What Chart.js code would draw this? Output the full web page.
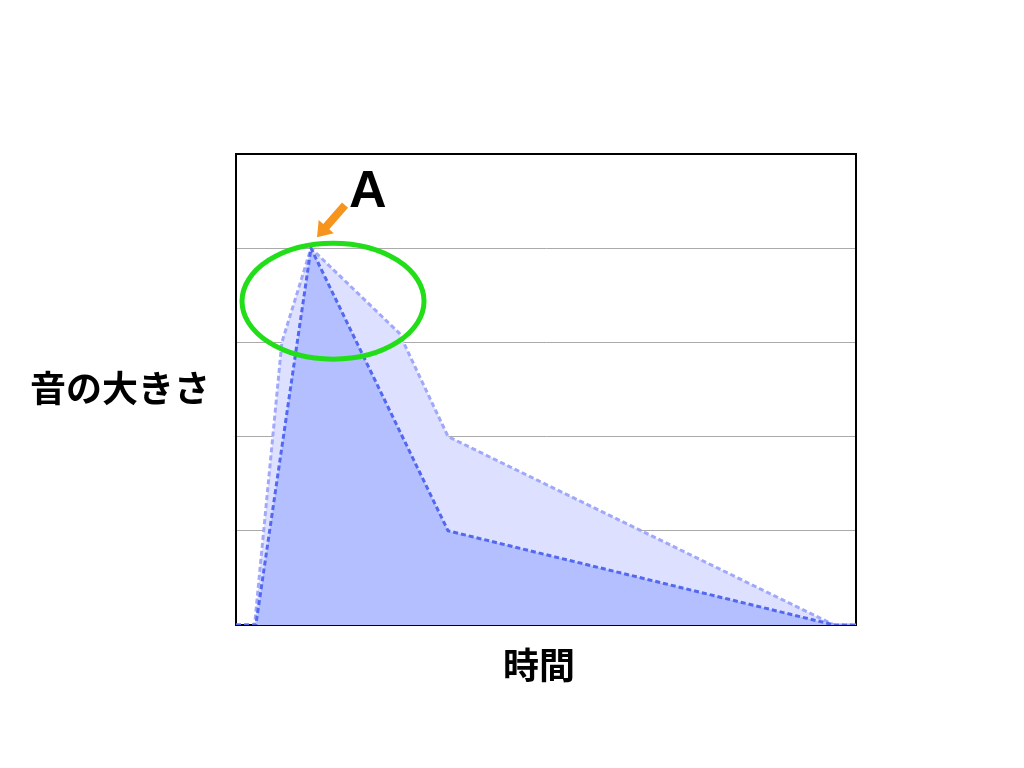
<!DOCTYPE html>
<html>
<head>
<meta charset="utf-8">
<script src="https://cdn.jsdelivr.net/npm/chart.js@4"></script>
<style>
  html, body { margin: 0; padding: 0; background: #fff; }
  #wrap { width: 1024px; height: 768px; }
</style>
</head>
<body>
<div id="wrap"><canvas id="chart" width="1024" height="768"></canvas></div>
<script>
// time axis 0..100, loudness 0..5
const darkTimes = [0, 3.2, 12.1, 34.2, 96.5, 100];
const darkLevels = [0, 0, 4, 1, 0, 0];
const lightTimes = [0, 3, 7.4, 12.1, 26.3, 34.2, 96.5, 100];
const lightLevels = [0, 0, 3, 4, 3.1, 2, 0, 0];
const yTicks = [0, 1, 2, 3, 4, 5];
const peakTime = 12.1;
const peakLevel = 4;

const xLabel = '時間';
const yLabel = '音の大きさ';
const markLabel = 'A';

function toPoints(xs, ys) {
    return xs.map((x, i) => ({ x: x, y: ys[i] }));
}

const decor = {
    id: 'decor',
    beforeDatasetsDraw(chart) {
        const c = chart.ctx;
        const a = chart.chartArea;
        c.save();
        // frame, under the lines
        c.strokeStyle = '#000';
        c.lineWidth = 2;
        c.strokeRect(a.left, a.top, a.right - a.left, a.bottom - a.top);
        c.restore();
    },
    afterDraw(chart) {
        const c = chart.ctx;
        const a = chart.chartArea;
        const xs = chart.scales.x, ys = chart.scales.y;
        c.save();

        // axis titles
        c.fillStyle = '#000';
        c.font = 'bold 36px "Noto Sans CJK JP"';
        c.textAlign = 'center';
        c.textBaseline = 'middle';
        c.fillText(yLabel, 120, (a.top + a.bottom) / 2 - 1);
        c.fillText(xLabel, (a.left + a.right) / 2 - 7, a.bottom + 40);

        // marker around peak
        const px = xs.getPixelForValue(peakTime);
        const py = ys.getPixelForValue(peakLevel);
        c.strokeStyle = 'rgb(34,222,24)';
        c.lineWidth = 5;
        c.beginPath();
        c.ellipse(px + 22, py + 53, 91, 58, 0, 0, Math.PI * 2);
        c.stroke();

        // arrow
        const tx = px + 34, ty = py - 43;
        const hx = px + 6, hy = py - 11;
        const ang = Math.atan2(hy - ty, hx - tx);
        const len = Math.hypot(hx - tx, hy - ty);
        c.translate(tx, ty);
        c.rotate(ang);
        c.fillStyle = 'rgb(247,148,29)';
        c.beginPath();
        c.moveTo(0, -4);
        c.lineTo(len - 14, -4);
        c.lineTo(len - 14, -10);
        c.lineTo(len, 0);
        c.lineTo(len - 14, 10);
        c.lineTo(len - 14, 4);
        c.lineTo(0, 4);
        c.closePath();
        c.fill();
        c.setTransform(1, 0, 0, 1, 0, 0);
        c.scale(chart.currentDevicePixelRatio, chart.currentDevicePixelRatio);

        c.fillStyle = '#000';
        c.font = 'bold 52px "Liberation Sans"';
        c.textAlign = 'left';
        c.textBaseline = 'alphabetic';
        c.fillText(markLabel, px + 38, py - 41);
        c.restore();
    }
};

new Chart(document.getElementById('chart').getContext('2d'), {
    type: 'line',
    data: {
        datasets: [{
            label: 'dark',
            data: toPoints(darkTimes, darkLevels),
            borderColor: 'rgb(82,104,240)',
            backgroundColor: 'rgb(179,191,255)',
            borderDash: [5, 3],
            borderWidth: 3,
            pointRadius: 0,
            tension: 0,
            fill: 'origin'
        }, {
            label: 'light',
            data: toPoints(lightTimes, lightLevels),
            borderColor: 'rgb(160,168,250)',
            backgroundColor: 'rgb(222,224,255)',
            borderDash: [5, 3],
            borderWidth: 3,
            pointRadius: 0,
            tension: 0,
            fill: 'origin'
        }]
    },
    options: {
        responsive: false,
        animation: false,
        layout: {
            padding: { left: 236, right: 168, top: 154, bottom: 143 }
        },
        plugins: {
            legend: { display: false },
            tooltip: { enabled: false }
        },
        scales: {
            x: {
                type: 'linear',
                min: 0,
                max: 100,
                grid: { display: false, drawTicks: false },
                border: { display: true, color: '#000', width: 2 },
                ticks: { display: false }
            },
            y: {
                min: 0,
                max: 5,
                afterBuildTicks(scale) {
                    scale.ticks = yTicks.map(v => ({ value: v }));
                },
                grid: {
                    drawTicks: false,
                    color: ctx => (ctx.tick.value === 0 || ctx.tick.value === 5) ? 'rgba(0,0,0,0)' : '#aaaaaa',
                    lineWidth: 1
                },
                border: { display: true, color: '#000', width: 2 },
                ticks: { display: false }
            }
        }
    },
    plugins: [decor]
});
</script>
</body>
</html>
